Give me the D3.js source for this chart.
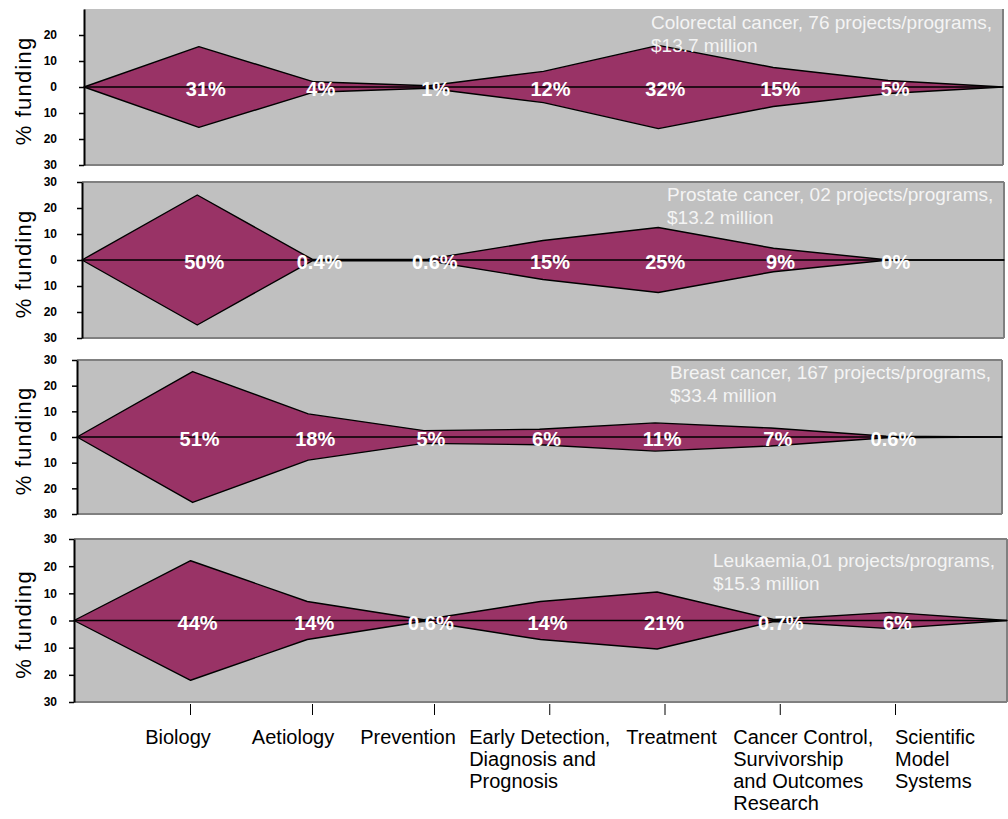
<!DOCTYPE html>
<html><head><meta charset="utf-8">
<script src="https://cdn.jsdelivr.net/npm/d3@7"></script>
<style>
body{margin:0;background:#fff;}
svg{display:block;font-family:"Liberation Sans",Arial,sans-serif;}
</style>
</head><body>
<svg id="chart" width="1008" height="819"></svg>
<script>
// ---------- DATA ----------
const categories = ["Biology", "Aetiology", "Prevention",
  "Early Detection, Diagnosis and Prognosis", "Treatment",
  "Cancer Control, Survivorship and Outcomes Research", "Scientific Model Systems"];
const categoryLines = [["Biology"], ["Aetiology"], ["Prevention"],
  ["Early Detection,", "Diagnosis and", "Prognosis"], ["Treatment"],
  ["Cancer Control,", "Survivorship", "and Outcomes", "Research"],
  ["Scientific", "Model", "Systems"]];
const colorectal = [31, 4, 1, 12, 32, 15, 5];
const prostate   = [50, 0.4, 0.6, 15, 25, 9, 0];
const breast     = [51, 18, 5, 6, 11, 7, 0.6];
const leukaemia  = [44, 14, 0.6, 14, 21, 0.7, 6];
const panelTitles = [
  ["Colorectal cancer, 76 projects/programs,", "$13.7 million"],
  ["Prostate cancer, 02 projects/programs,", "$13.2 million"],
  ["Breast cancer, 167 projects/programs,", "$33.4 million"],
  ["Leukaemia,01 projects/programs,", "$15.3 million"]
];
const yTickValues = [-30, -20, -10, 0, 10, 20, 30];
const yTitle = "% funding";

// ---------- LAYOUT ----------
const series = [colorectal, prostate, breast, leukaemia];
const layout = [
  {left: 84, right: 1003, top: 9,   bottom: 165, tx: 651, ty: 29,  topBorder: false, topTick: false},
  {left: 82, right: 1004, top: 182, bottom: 338, tx: 667, ty: 201, topBorder: true,  topTick: true},
  {left: 77, right: 1002, top: 360, bottom: 514, tx: 670, ty: 379, topBorder: true,  topTick: true},
  {left: 74, right: 1007, top: 539, bottom: 702, tx: 713, ty: 567, topBorder: true,  topTick: true}
];
const FILL = "#993366", BG = "#c0c0c0", BORDER = "#808080";

const svg = d3.select("#chart");

series.forEach((vals, p) => {
  const L = layout[p];
  const pts = [0, ...vals, 0];
  const x = d3.scaleLinear().domain([0, pts.length - 1]).range([L.left, L.right]);
  const y = d3.scaleLinear().domain([-30, 30]).range([L.bottom, L.top]);
  const g = svg.append("g");

  g.append("rect").attr("x", L.left).attr("y", L.top)
    .attr("width", L.right - L.left).attr("height", L.bottom - L.top)
    .attr("fill", BG);

  if (L.topBorder) g.append("line").attr("x1", L.left).attr("x2", L.right)
    .attr("y1", L.top).attr("y2", L.top).attr("stroke", BORDER).attr("stroke-width", 2);
  g.append("line").attr("x1", L.right).attr("x2", L.right)
    .attr("y1", L.top).attr("y2", L.bottom).attr("stroke", BORDER).attr("stroke-width", 2);
  g.append("line").attr("x1", L.left).attr("x2", L.right)
    .attr("y1", L.bottom).attr("y2", L.bottom).attr("stroke", BORDER).attr("stroke-width", 2);

  const area = d3.area()
    .x((d, i) => x(i))
    .y0(d => y(-d / 2))
    .y1(d => y(d / 2));
  g.append("path").datum(pts).attr("d", area)
    .attr("fill", FILL).attr("stroke", "#000").attr("stroke-width", 1.4)
    .attr("stroke-linejoin", "round");

  g.append("line").attr("x1", L.left).attr("x2", L.right)
    .attr("y1", y(0)).attr("y2", y(0)).attr("stroke", "#000").attr("stroke-width", 1.5);

  const ticks = L.topTick ? yTickValues : yTickValues.filter(v => v < 30);
  const axis = d3.axisLeft(y).tickValues(ticks).tickSize(5).tickSizeOuter(0)
    .tickPadding(L.left - 57 - 5).tickFormat(d => Math.abs(d));
  const ag = g.append("g").attr("transform", `translate(${L.left},0)`).call(axis);
  ag.select(".domain").attr("stroke", "#000").attr("stroke-width", 2);
  ag.selectAll(".tick line").attr("stroke", "#000").attr("stroke-width", 1.5);
  ag.selectAll(".tick text").attr("font-size", 12).attr("font-weight", "bold")
    .attr("font-family", "'Liberation Sans', Arial, sans-serif").attr("fill", "#000");

  g.append("text")
    .attr("transform", `translate(31,${(L.top + L.bottom) / 2 + 4}) rotate(-90)`)
    .attr("text-anchor", "middle").attr("font-size", 22).attr("letter-spacing", 1.2)
    .attr("fill", "#000").text(yTitle);

  g.selectAll("text.pct").data(vals).enter().append("text").attr("class", "pct")
    .attr("x", (d, i) => x(i + 1) + 7).attr("y", y(0) + 9)
    .attr("text-anchor", "middle").attr("font-size", 20).attr("font-weight", "bold")
    .attr("fill", "#fff").text(d => d + "%");

  const t = g.append("text").attr("x", L.tx).attr("y", L.ty)
    .attr("font-size", 19).attr("fill", "#f4f4f4");
  panelTitles[p].forEach((line, k) => {
    t.append("tspan").attr("x", L.tx).attr("dy", k === 0 ? 0 : 23).text(line);
  });
});

// ---------- X AXIS (under last panel) ----------
const last = layout[layout.length - 1];
const catIndex = d3.scaleOrdinal().domain(categories).range(d3.range(categories.length));
const tickPos = d3.scaleLinear().domain([0, 2, 6]).range([190, 434, 895]);
const labelPos = d3.scaleLinear().domain([0, 2, 6]).range([178, 408, 935]);
const tickScale = c => tickPos(catIndex(c));
const xAxis = d3.axisBottom(tickPos).tickValues(d3.range(categories.length))
  .tickSize(11).tickSizeOuter(0).tickFormat("");
const xg = svg.append("g").attr("transform", `translate(0,${last.bottom + 2})`).call(xAxis);
xg.select(".domain").remove();
xg.selectAll(".tick line").attr("stroke", "#000").attr("stroke-width", 1);

categories.forEach((c, i) => {
  const lines = categoryLines[i];
  const tg = svg.append("text").attr("font-size", 20).attr("fill", "#000");
  lines.forEach((ln, k) => {
    tg.append("tspan").attr("y", 744 + 22 * k).text(ln);
  });
  let maxW = 0;
  tg.selectAll("tspan").each(function () { maxW = Math.max(maxW, this.getComputedTextLength()); });
  const lx = labelPos(catIndex(c)) - maxW / 2;
  tg.selectAll("tspan").attr("x", lx);
});
</script>
</body></html>
